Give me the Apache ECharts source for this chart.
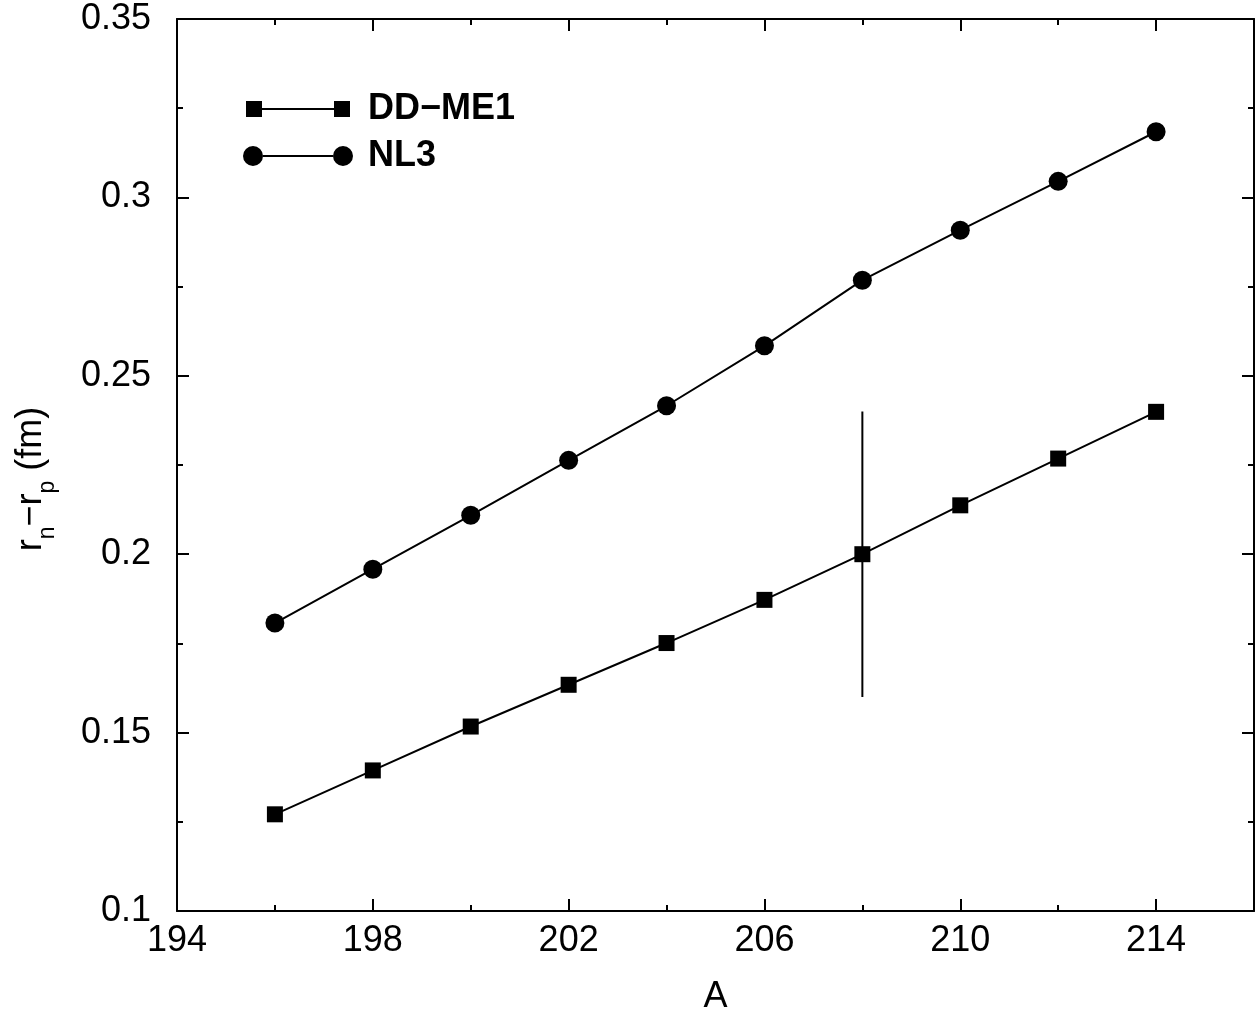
<!DOCTYPE html>
<html><head><meta charset="utf-8">
<script src="https://cdn.jsdelivr.net/npm/echarts@6/dist/echarts.min.js"></script>
<style>html,body{margin:0;padding:0;background:#fff}#c{width:1260px;height:1020px}</style>
</head><body><div id="c"></div>
<script>
const massNumbers = [196, 198, 200, 202, 204, 206, 208, 210, 212, 214];
const ddme1 = [0.1271, 0.1394, 0.1517, 0.1634, 0.1751, 0.1872, 0.2000, 0.2137, 0.2268, 0.2399];
const nl3 = [0.1807, 0.1958, 0.2109, 0.2263, 0.2416, 0.2584, 0.2768, 0.2908, 0.3045, 0.3184];
const errX = 208;
const errCenter = 0.20;
const errHalf = 0.04;

const font = 'Liberation Sans, Arial, sans-serif';
const sqIcon = 'path://M0,0M110,20M3,2h16v16h-16z M19,9h72v2h-72z M91,2h16v16h-16z';
const ciIcon = 'path://M0,10a10,10 0 1,0 20,0a10,10 0 1,0 -20,0z M20,9h70v2h-70z M90,10a10,10 0 1,0 20,0a10,10 0 1,0 -20,0z';

function axisCommon(show, hideMax, margin) {
  return {
    axisLine: {show: true, lineStyle: {color: '#000', width: 2}},
    axisTick: {show: true, inside: true, length: 12, lineStyle: {color: '#000', width: 2}},
    minorTick: {show: true, splitNumber: 2, length: 6, lineStyle: {color: '#000', width: 2}},
    splitLine: {show: false},
    axisLabel: {show: show, color: '#000', fontFamily: font, fontSize: 36, margin: margin, showMaxLabel: hideMax ? false : true}
  };
}

const option = {
  animation: false,
  backgroundColor: '#fff',
  grid: {left: 177, right: 6, top: 19, bottom: 106},
  legend: {
    left: 238, top: 84, orient: 'vertical', itemGap: 7,
    itemWidth: 110, itemHeight: 20,
    textStyle: {fontFamily: font, fontSize: 36, fontWeight: 'bold', color: '#000', lineHeight: 40, padding: [0, 0, 0, 10]},
    data: [
      {name: 'DD\u2212ME1', icon: sqIcon},
      {name: 'NL3', icon: ciIcon}
    ]
  },
  xAxis: [
    Object.assign({type: 'value', min: 194, max: 216, interval: 4, position: 'bottom',
      name: 'A', nameLocation: 'middle', nameGap: 68,
      nameTextStyle: {fontFamily: font, fontSize: 36, color: '#000'}}, axisCommon(true, true, 12)),
    Object.assign({type: 'value', min: 194, max: 216, interval: 4, position: 'top'}, axisCommon(false, true, 12))
  ],
  yAxis: [
    Object.assign({type: 'value', min: 0.1, max: 0.35, interval: 0.05, position: 'left',
      name: '{m|r}{s|n}{m|\u2212r}{s|p}{m| (fm)}', nameLocation: 'middle', nameGap: 128,
      nameTextStyle: {fontFamily: font, fontSize: 36, color: '#000', padding: [0, 28, 0, 0],
        rich: {
          m: {fontFamily: font, fontSize: 36, color: '#000', verticalAlign: 'bottom', lineHeight: 44},
          s: {fontFamily: font, fontSize: 23, color: '#000', verticalAlign: 'bottom', lineHeight: 44, padding: [0, 0, -10, 0]}
        }}}, axisCommon(true, false, 26)),
    Object.assign({type: 'value', min: 0.1, max: 0.35, interval: 0.05, position: 'right'}, axisCommon(false, false, 26))
  ],
  series: [
    {
      name: 'DD\u2212ME1', type: 'line', xAxisIndex: 0, yAxisIndex: 0,
      data: massNumbers.map((a, i) => [a, ddme1[i]]),
      symbol: 'rect', symbolSize: 16,
      itemStyle: {color: '#000'}, lineStyle: {color: '#000', width: 2}
    },
    {
      name: 'NL3', type: 'line', xAxisIndex: 0, yAxisIndex: 0,
      data: massNumbers.map((a, i) => [a, nl3[i]]),
      symbol: 'circle', symbolSize: 19,
      itemStyle: {color: '#000'}, lineStyle: {color: '#000', width: 2}
    },
    {
      name: 'err', type: 'line', xAxisIndex: 0, yAxisIndex: 0,
      data: [[errX, errCenter - errHalf], [errX, errCenter + errHalf]],
      showSymbol: false, symbol: 'none', z: 1,
      lineStyle: {color: '#000', width: 2}
    }
  ]
};
const chart = echarts.init(document.getElementById('c'), null, {renderer: 'canvas'});
chart.setOption(option);
</script>
</body></html>
